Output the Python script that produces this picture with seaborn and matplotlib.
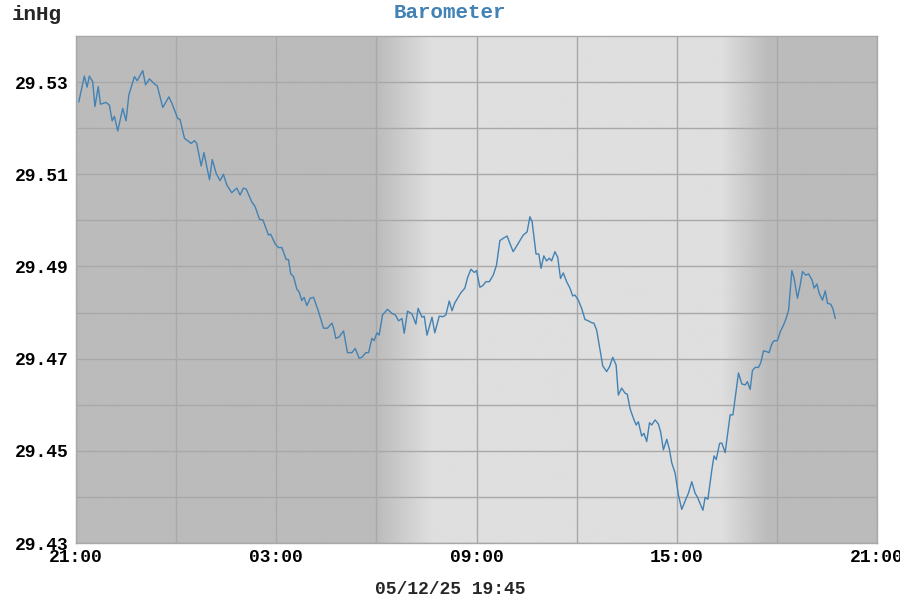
import numpy as np
import pandas as pd
import matplotlib
matplotlib.use("Agg")
import matplotlib.pyplot as plt
import matplotlib.dates as mdates
import seaborn as sns

# minutes after 21:00 on 05/11/25, barometer readings in inHg
minutes = [
    5, 15, 20, 24, 30, 34, 40, 44, 54, 60, 65, 69, 75, 84, 90, 95, 105, 110, 120, 125,
    132, 141, 146, 156, 167, 172, 183, 187, 195, 207, 213, 217, 225, 230, 240, 245,
    252, 259, 265, 271, 280, 289, 295, 301, 306, 316, 322, 330, 336, 346, 350, 358,
    364, 370, 378, 382, 386, 391, 397, 401, 406, 410, 415, 421, 427, 436, 445, 452,
    460, 464, 467, 473, 481, 488, 496, 502, 509, 514, 521, 526, 532, 536, 541, 545,
    551, 560, 568, 574, 580, 586, 590, 596, 604, 611, 615, 622, 626, 631, 640, 645,
    653, 660, 665, 671, 676, 681, 692, 699, 704, 710, 716, 720, 726, 731, 737, 743,
    750, 756, 762, 768, 775, 780, 786, 795, 804, 811, 816, 820, 827, 832, 836, 841,
    846, 851, 855, 861, 866, 871, 876, 882, 888, 893, 897, 903, 909, 915, 921, 927,
    931, 936, 941, 947, 954, 959, 965, 971, 975, 981, 987, 991, 996, 1001, 1007, 1011,
    1017, 1021, 1026, 1031, 1035, 1041, 1047, 1051, 1056, 1062, 1067, 1071, 1077, 1083,
    1089, 1097, 1101, 1107, 1113, 1117, 1127, 1131, 1136, 1143, 1147, 1151, 1157, 1161,
    1167, 1176, 1181, 1191, 1197, 1203, 1207, 1212, 1216, 1221, 1227, 1231, 1236, 1242,
    1246, 1251, 1255, 1261, 1266, 1272, 1276, 1281, 1287, 1291, 1297, 1302, 1306, 1312,
    1317, 1323, 1327, 1332, 1336, 1342, 1347, 1351, 1357, 1361, 1365,
]
pressure = [
    29.5257, 29.5313, 29.5289, 29.5313, 29.5301, 29.5247, 29.5290, 29.5252, 29.5256, 29.5250,
    29.5216, 29.5226, 29.5194, 29.5243, 29.5216, 29.5272, 29.5312, 29.5303, 29.5325, 29.5294,
    29.5307, 29.5296, 29.5292, 29.5245, 29.5268, 29.5255, 29.5221, 29.5219, 29.5178, 29.5167,
    29.5173, 29.5167, 29.5118, 29.5147, 29.5088, 29.5132,
    29.5102, 29.5086, 29.5100, 29.5077, 29.5060, 29.5070, 29.5055, 29.5070, 29.5068, 29.5040,
    29.5030, 29.5002, 29.5001, 29.4968, 29.4970, 29.4949, 29.4941, 29.4941, 29.4915, 29.4915,
    29.4884, 29.4878, 29.4851, 29.4845, 29.4826, 29.4833, 29.4815, 29.4831, 29.4833, 29.4802,
    29.4766, 29.4766, 29.4777, 29.4762,
    29.4744, 29.4747, 29.4760, 29.4713, 29.4713, 29.4722, 29.4701, 29.4703, 29.4713, 29.4713,
    29.4744, 29.4739, 29.4756, 29.4751, 29.4795, 29.4807, 29.4798, 29.4795, 29.4782, 29.4787,
    29.4755, 29.4803, 29.4797, 29.4775, 29.4809, 29.4790, 29.4792, 29.4751, 29.4790, 29.4756,
    29.4792, 29.4791, 29.4795, 29.4825, 29.4804, 29.4821, 29.4843, 29.4853,
    29.4876, 29.4894, 29.4887, 29.4891, 29.4855, 29.4858, 29.4867, 29.4867, 29.4881, 29.4903,
    29.4956, 29.4961, 29.4966, 29.4950, 29.4932, 29.4950, 29.4968, 29.4975, 29.5008, 29.4997,
    29.4927, 29.4927, 29.4896, 29.4923, 29.4912, 29.4918, 29.4912, 29.4932, 29.4920, 29.4874,
    29.4886, 29.4867, 29.4853, 29.4836, 29.4838, 29.4827, 29.4809, 29.4785, 29.4782, 29.4778,
    29.4777, 29.4762, 29.4726, 29.4684, 29.4672, 29.4682, 29.4703, 29.4686, 29.4621, 29.4636,
    29.4625, 29.4623, 29.4592, 29.4574, 29.4556, 29.4563, 29.4532, 29.4538, 29.4520, 29.4561,
    29.4556, 29.4567, 29.4558, 29.4541, 29.4502, 29.4525, 29.4502, 29.4474, 29.4452, 29.4404,
    29.4373, 29.4397, 29.4408, 29.4433, 29.4408, 29.4400, 29.4371, 29.4399, 29.4395, 29.4458,
    29.4489, 29.4481, 29.4516, 29.4517, 29.4496, 29.4578, 29.4578, 29.4669, 29.4645, 29.4643,
    29.4650, 29.4633, 29.4674, 29.4681, 29.4681, 29.4691, 29.4717, 29.4715, 29.4713, 29.4732,
    29.4739, 29.4739, 29.4758, 29.4773, 29.4785, 29.4805, 29.4891, 29.4874, 29.4831, 29.4860,
    29.4889, 29.4881, 29.4884, 29.4871, 29.4853, 29.4862, 29.4842, 29.4827, 29.4847, 29.4820,
    29.4818, 29.4807, 29.4787,
]

start = "2025-05-11 21:00"
y_ticks = [29.43, 29.45, 29.47, 29.49, 29.51, 29.53]
y_limits = [29.43, 29.54]

# day/night shading: hours after 21:00 and grey level (0-255)
shade_hours = [0, 9.0, 10.67, 19.33, 20.75, 24]
shade_level = [187, 187, 223, 223, 187, 187]

line_color = "#4282b4"
grid_color = "#a8a8a8"

sns.set_style("white")
plt.rcParams["font.family"] = ["Liberation Mono", "DejaVu Sans Mono"]
plt.rcParams["font.weight"] = "bold"

base = pd.Timestamp(start)
df = pd.DataFrame({
    "time": base + pd.to_timedelta(minutes, unit="min"),
    "pressure": pressure,
})

fig = plt.figure(figsize=(9, 6), dpi=100)
ax = fig.add_axes([76 / 900, 1 - 543 / 600, 801 / 900, 507 / 600])

x0 = mdates.date2num(base)
x1 = mdates.date2num(base + pd.Timedelta(hours=24))

# background gradient
hh = np.linspace(0, 24, 1000)
lev = np.interp(hh, shade_hours, shade_level) / 255.0
ax.imshow(lev[np.newaxis, :], extent=[x0, x1, y_limits[0], y_limits[1]],
          aspect="auto", cmap="gray", vmin=0, vmax=1, zorder=-1,
          interpolation="bilinear")

sns.lineplot(data=df, x="time", y="pressure", ax=ax, color=line_color,
             linewidth=1.0, zorder=3)

ax.set_xlim(x0, x1)
ax.set_ylim(*y_limits)

ax.xaxis.set_major_locator(mdates.HourLocator(byhour=[3, 9, 15, 21]))
ax.xaxis.set_minor_locator(mdates.HourLocator(byhour=[0, 6, 12, 18]))
ax.xaxis.set_major_formatter(mdates.DateFormatter("%H:%M"))
ax.set_yticks(y_ticks)
ax.set_yticks(np.arange(29.44, 29.54, 0.02), minor=True)
ax.yaxis.set_major_formatter(plt.FormatStrFormatter("%.2f"))

ax.grid(which="both", color=grid_color, linewidth=1.0, zorder=1)
ax.set_axisbelow(True)
ax.tick_params(which="both", length=0, labelsize=13, colors="black")
ax.tick_params(axis="x", pad=4)
ax.tick_params(axis="y", pad=5)
ax.set_xlabel("")
ax.set_ylabel("")
for s in ax.spines.values():
    s.set_color(grid_color)
    s.set_linewidth(1.0)

fig.text(0.5, 1 - 12 / 600, "Barometer", ha="center", va="center",
         color=line_color, fontsize=15, fontweight="bold")
fig.text(12 / 900, 1 - 14 / 600, "inHg", ha="left", va="center",
         fontsize=15, fontweight="bold")
fig.text(0.5, 1 - 590 / 600, "05/12/25 19:45", ha="center", va="center",
         fontsize=13, fontweight="bold")

fig.savefig("out.png", dpi=100)
